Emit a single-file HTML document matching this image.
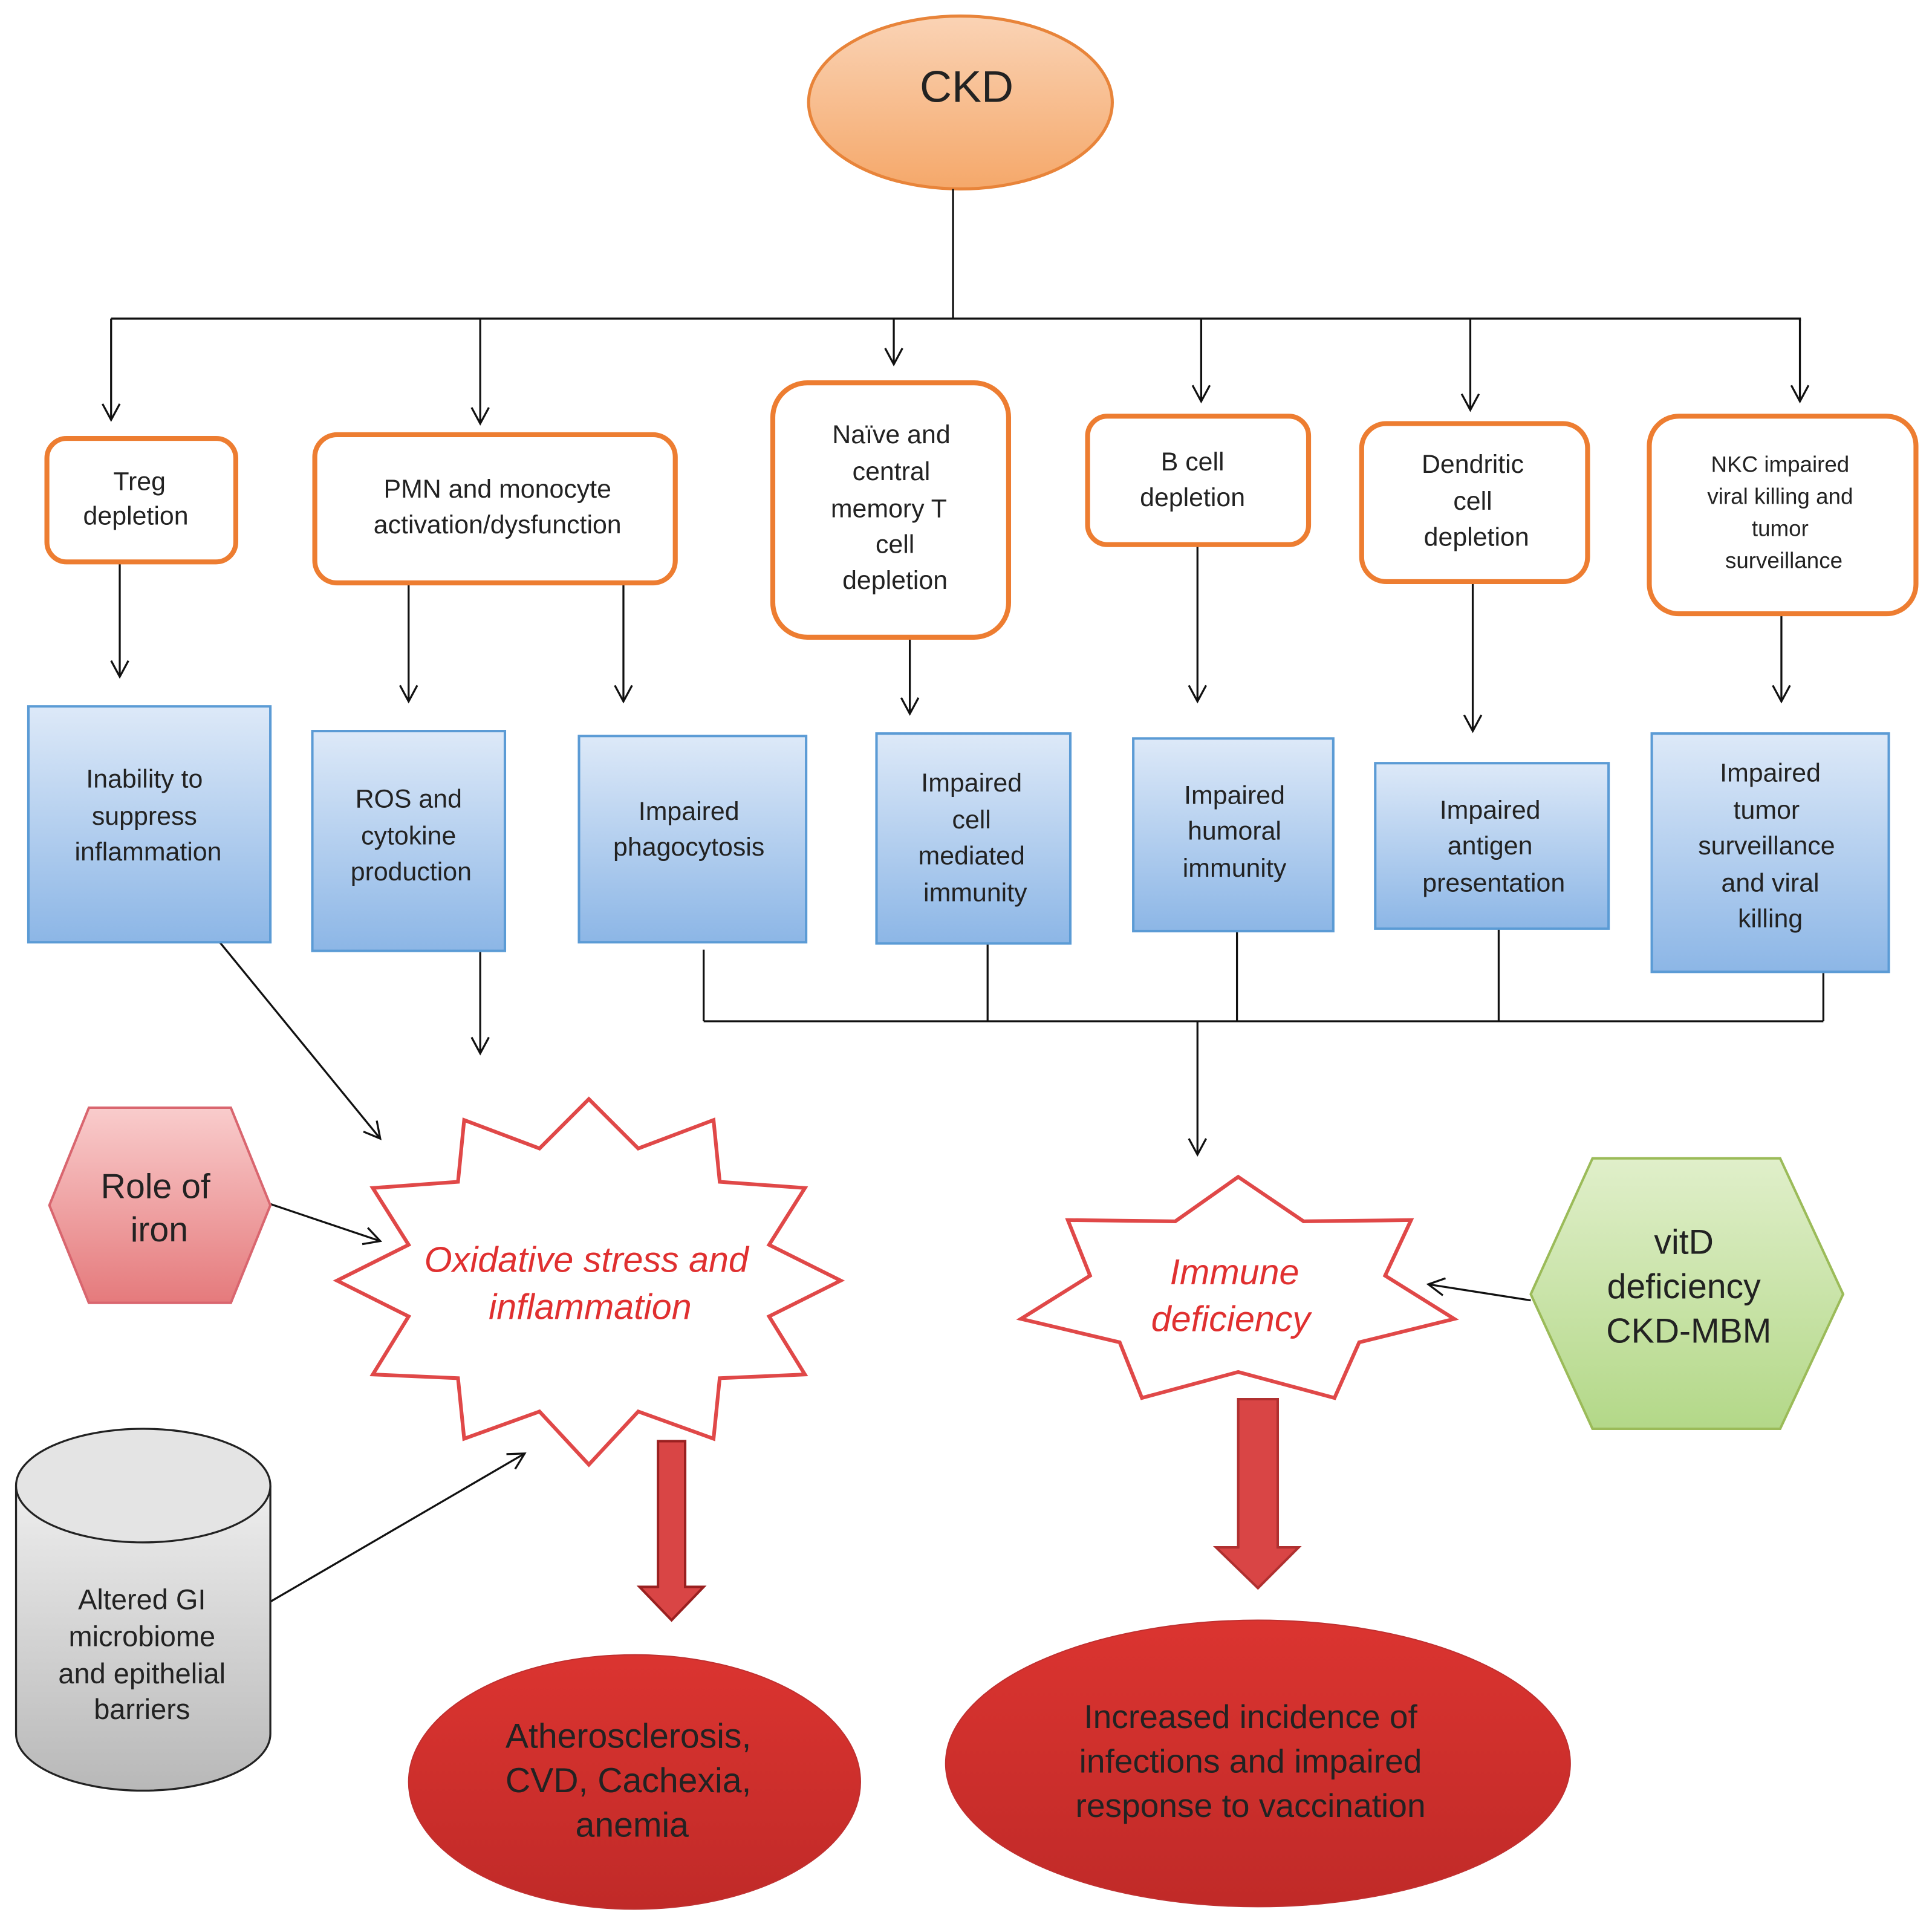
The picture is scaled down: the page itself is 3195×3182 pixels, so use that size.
<!DOCTYPE html>
<html><head><meta charset="utf-8"><style>
html,body{margin:0;padding:0;background:#fff;}
svg{display:block;}
text{font-family:"Liberation Sans",sans-serif;fill:#222;text-anchor:middle;dominant-baseline:central;}
</style></head><body>
<svg width="3195" height="3182" viewBox="0 0 1565 1558" preserveAspectRatio="none" xmlns="http://www.w3.org/2000/svg">
<defs>
<marker id="a" markerUnits="userSpaceOnUse" markerWidth="16" markerHeight="16" refX="14" refY="8" orient="auto">
<path d="M1,1 L14,8 L1,15" fill="none" stroke="#111" stroke-width="1.6"/></marker>
<linearGradient id="og" x1="0" y1="0" x2="0" y2="1"><stop offset="0" stop-color="#fad3b5"/><stop offset="1" stop-color="#f5a86a"/></linearGradient>
<linearGradient id="bg" x1="0" y1="0" x2="0" y2="1"><stop offset="0" stop-color="#dde9f8"/><stop offset="1" stop-color="#8cb6e6"/></linearGradient>
<linearGradient id="rg" x1="0" y1="0" x2="0" y2="1"><stop offset="0" stop-color="#f9cccc"/><stop offset="1" stop-color="#e57a7c"/></linearGradient>
<linearGradient id="gg" x1="0" y1="0" x2="0" y2="1"><stop offset="0" stop-color="#e0efca"/><stop offset="1" stop-color="#b3d888"/></linearGradient>
<linearGradient id="cg" x1="0" y1="0" x2="0" y2="1"><stop offset="0" stop-color="#eeeeee"/><stop offset="1" stop-color="#b8b8b8"/></linearGradient>
<linearGradient id="eg" x1="0" y1="0" x2="0" y2="1"><stop offset="0" stop-color="#db3430"/><stop offset="1" stop-color="#c02a28"/></linearGradient>
</defs>

<!-- CKD -->
<ellipse cx="778" cy="83" rx="123" ry="70" fill="url(#og)" stroke="#e8843a" stroke-width="2.5"/>
<text x="783" y="70" font-size="36">CKD</text>

<g stroke="#111" stroke-width="1.6" fill="none">
<line x1="772" y1="153" x2="772" y2="258"/>
<polyline points="90,258 1458,258 1458,260"/>
<line x1="90" y1="258" x2="90" y2="340" marker-end="url(#a)"/>
<line x1="389" y1="258" x2="389" y2="343" marker-end="url(#a)"/>
<line x1="724" y1="258" x2="724" y2="295" marker-end="url(#a)"/>
<line x1="973" y1="258" x2="973" y2="325" marker-end="url(#a)"/>
<line x1="1191" y1="258" x2="1191" y2="332" marker-end="url(#a)"/>
<line x1="1458" y1="258" x2="1458" y2="325" marker-end="url(#a)"/>

<line x1="97" y1="455" x2="97" y2="548" marker-end="url(#a)"/>
<line x1="331" y1="472" x2="331" y2="568" marker-end="url(#a)"/>
<line x1="505" y1="472" x2="505" y2="568" marker-end="url(#a)"/>
<line x1="737" y1="516" x2="737" y2="578" marker-end="url(#a)"/>
<line x1="970" y1="441" x2="970" y2="568" marker-end="url(#a)"/>
<line x1="1193" y1="471" x2="1193" y2="592" marker-end="url(#a)"/>
<line x1="1443" y1="497" x2="1443" y2="568" marker-end="url(#a)"/>

<line x1="178" y1="763" x2="308" y2="922" marker-end="url(#a)"/>
<line x1="389" y1="770" x2="389" y2="853" marker-end="url(#a)"/>
<line x1="570" y1="769" x2="570" y2="827"/>
<line x1="800" y1="764" x2="800" y2="827"/>
<line x1="1002" y1="754" x2="1002" y2="827"/>
<line x1="1214" y1="752" x2="1214" y2="827"/>
<line x1="1477" y1="787" x2="1477" y2="827"/>
<line x1="570" y1="827" x2="1477" y2="827"/>
<line x1="970" y1="827" x2="970" y2="935" marker-end="url(#a)"/>

<line x1="219" y1="975" x2="308" y2="1005" marker-end="url(#a)"/>
<line x1="1240" y1="1053" x2="1157" y2="1040" marker-end="url(#a)"/>
<line x1="219" y1="1297" x2="425" y2="1177" marker-end="url(#a)"/>
</g>

<!-- orange boxes -->
<g fill="#fff" stroke="#ed7d31" stroke-width="4">
<rect x="38" y="355" width="153" height="100" rx="16"/>
<rect x="255" y="352" width="292" height="120" rx="18"/>
<rect x="626" y="310" width="191" height="206" rx="28"/>
<rect x="881" y="337" width="179" height="104" rx="16"/>
<rect x="1103" y="343" width="183" height="128" rx="20"/>
<rect x="1336" y="337" width="216" height="160" rx="24"/>
</g>
<g font-size="21">
<text x="113" y="390">Treg</text><text x="110" y="418">depletion</text>
<text x="403" y="396">PMN and monocyte</text><text x="403" y="425">activation/dysfunction</text>
<text x="722" y="352">Naïve and</text><text x="722" y="382">central</text><text x="720" y="412">memory T</text><text x="725" y="441">cell</text><text x="725" y="470">depletion</text>
<text x="966" y="374">B cell</text><text x="966" y="403">depletion</text>
<text x="1193" y="376">Dendritic</text><text x="1193" y="406">cell</text><text x="1196" y="435">depletion</text>
</g>
<g font-size="18">
<text x="1442" y="376">NKC impaired</text><text x="1442" y="402">viral killing and</text><text x="1442" y="428">tumor</text><text x="1445" y="454">surveillance</text>
</g>

<!-- blue boxes -->
<g fill="url(#bg)" stroke="#5b9bd5" stroke-width="2">
<rect x="23" y="572" width="196" height="191"/>
<rect x="253" y="592" width="156" height="178"/>
<rect x="469" y="596" width="184" height="167"/>
<rect x="710" y="594" width="157" height="170"/>
<rect x="918" y="598" width="162" height="156"/>
<rect x="1114" y="618" width="189" height="134"/>
<rect x="1338" y="594" width="192" height="193"/>
</g>
<g font-size="21">
<text x="117" y="631">Inability to</text><text x="117" y="661">suppress</text><text x="120" y="690">inflammation</text>
<text x="331" y="647">ROS and</text><text x="331" y="677">cytokine</text><text x="333" y="706">production</text>
<text x="558" y="657">Impaired</text><text x="558" y="686">phagocytosis</text>
<text x="787" y="634">Impaired</text><text x="787" y="664">cell</text><text x="787" y="693">mediated</text><text x="790" y="723">immunity</text>
<text x="1000" y="644">Impaired</text><text x="1000" y="673">humoral</text><text x="1000" y="703">immunity</text>
<text x="1207" y="656">Impaired</text><text x="1207" y="685">antigen</text><text x="1210" y="715">presentation</text>
<text x="1434" y="626">Impaired</text><text x="1431" y="656">tumor</text><text x="1431" y="685">surveillance</text><text x="1434" y="715">and viral</text><text x="1434" y="744">killing</text>
</g>

<!-- stars -->
<polygon fill="#fff" stroke="#e04848" stroke-width="3" points="477,890 517,930 578,907 583,957 652,962 623,1008 681,1037 623,1066 652,1113 583,1116 578,1165 517,1143 477,1186 437,1143 376,1165 371,1116 302,1113 331,1066 273,1037 331,1008 302,962 371,957 376,907 437,930"/>
<g font-size="29" font-style="italic"><text x="475" y="1020" style="fill:#e03030">Oxidative stress and</text><text x="478" y="1058" style="fill:#e03030">inflammation</text></g>

<polygon fill="#fff" stroke="#e04848" stroke-width="3" points="1003,953 1056,989 1143,988 1122,1033 1178,1068 1101,1087 1081,1132 1003,1111 925,1132 907,1087 827,1068 883,1033 865,988 952,989"/>
<g font-size="29" font-style="italic"><text x="1000" y="1030" style="fill:#e03030">Immune</text><text x="997" y="1068" style="fill:#e03030">deficiency</text></g>

<!-- hexagons -->
<polygon points="72,897 187,897 219,976 187,1055 72,1055 40,976" fill="url(#rg)" stroke="#d9666f" stroke-width="2"/>
<g font-size="28"><text x="126" y="961">Role of</text><text x="129" y="996">iron</text></g>
<polygon points="1290,938 1442,938 1493,1048 1442,1157 1290,1157 1240,1048" fill="url(#gg)" stroke="#9bbb59" stroke-width="2"/>
<g font-size="28"><text x="1364" y="1006">vitD</text><text x="1364" y="1042">deficiency</text><text x="1368" y="1078">CKD-MBM</text></g>

<!-- cylinder -->
<path d="M13,1203 L13,1404 A103,46 0 0 0 219,1404 L219,1203" fill="url(#cg)" stroke="#222" stroke-width="1.6"/>
<ellipse cx="116" cy="1203" rx="103" ry="46" fill="#e4e4e4" stroke="#222" stroke-width="1.6"/>
<g font-size="23"><text x="115" y="1295">Altered GI</text><text x="115" y="1325">microbiome</text><text x="115" y="1355">and epithelial</text><text x="115" y="1384">barriers</text></g>

<!-- thick arrows -->
<polygon points="533,1167 555,1167 555,1285 570,1285 544,1312 518,1285 533,1285" fill="#d94545" stroke="#9a2020" stroke-width="2"/>
<polygon points="1003,1133 1035,1133 1035,1253 1052,1253 1019,1286 985,1253 1003,1253" fill="#d94545" stroke="#b03030" stroke-width="2"/>

<!-- outcome ellipses -->
<ellipse cx="514" cy="1443" rx="183" ry="103" fill="url(#eg)" stroke="#c03030" stroke-width="1"/>
<g font-size="28"><text x="509" y="1406">Atherosclerosis,</text><text x="509" y="1442">CVD, Cachexia,</text><text x="512" y="1478">anemia</text></g>
<ellipse cx="1019" cy="1428" rx="253" ry="116" fill="url(#eg)" stroke="#c03030" stroke-width="1"/>
<g font-size="27"><text x="1013" y="1390">Increased incidence of</text><text x="1013" y="1426">infections and impaired</text><text x="1013" y="1462">response to vaccination</text></g>
</svg>
</body></html>
